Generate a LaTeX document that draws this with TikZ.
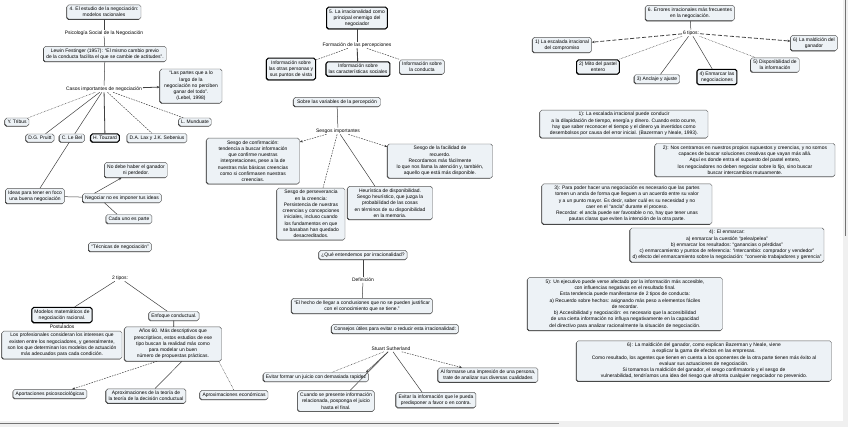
\documentclass[tikz,border=0pt]{standalone}
\usepackage{fontspec}
\setmainfont{Liberation Sans}
\usetikzlibrary{shadows,arrows.meta,calc}
\definecolor{boxfill}{HTML}{EDF2F6}
\newcommand\mapfont{\fontsize{4.95}{6.25}\selectfont}
\tikzset{
 mapbox/.style={draw=black!65, line width=0.45pt, fill=boxfill, rounded corners=1.8pt, align=center, font=\mapfont, inner xsep=2.5pt, inner ysep=2.2pt, drop shadow={shadow xshift=-0.6pt, shadow yshift=-0.6pt, fill=black!85, opacity=1}},
 thickbox/.style={mapbox, draw=black, line width=1pt},
 lbl/.style={fill=white, inner sep=0.8pt, font=\mapfont, align=center},
 conn/.style={draw=black!75, line width=0.5pt},
 dsh/.style={conn, dash pattern=on 1.6pt off 1.1pt},
 dtt/.style={conn, dash pattern=on 0.6pt off 0.9pt},
 ldsh/.style={conn, line width=0.8pt, dash pattern=on 4pt off 2pt},
 arr/.style={-{Stealth[length=3pt,width=2.4pt]}},
}
\begin{document}
\begin{tikzpicture}[x=1pt,y=-1pt]
\useasboundingbox (0,0) rectangle (848,427);
\fill[white] (0,0) rectangle (848,427);
% scroll bars
\fill[black!6] (843,0) rectangle (848,427);
\fill[black!6] (0,421) rectangle (848,427);
\draw[black!55, line width=1pt] (845.5,0) -- (845.5,236);
\draw[black!55, line width=0.8pt] (0,423) -- (559,423);

% ---------- left column ----------
\node[mapbox] (n4) at (104,12) {4. El estudio de la negociación:\\ modelos racionales};
\node[lbl] (l1) at (104,33) {Psicología Social de la Negociación};
\node[mapbox] (lewin) at (105,54) {Lewin Festinger (1957): “El mismo cambio previo\\ de la conducta facilita el que se cambie de actitudes”.};
\node[lbl] (l2) at (104,89) {Casos importantes de negociación};
\node[mapbox, minimum width=62pt] (lebel) at (191,86) {“Las partes que a lo\\ largo de la\\ negociación no perciben\\ ganar del todo”.\\ (Lebel, 1998)};
\node[mapbox] (tribus) at (17,122) {Y. Tribus};
\node[mapbox] (pruitt) at (40,138) {D.G. Pruitt};
\node[mapbox] (lebelb) at (72,138) {C. Le Bel};
\node[thickbox] (touz) at (105,138) {H. Touzard};
\node[mapbox] (lax) at (157,138) {D.A. Lax y J.K. Sebenius};
\node[mapbox] (mund) at (195,122) {L. Munduate};
\node[mapbox] (ideas) at (35,196) {Ideas para tener en foco\\ una buena negociación};
\node[mapbox] (nego) at (122,198) {Negociar no es imponer tus ideas};
\node[mapbox] (nodebe) at (136,170) {No debe haber el ganador\\ ni perdedor.};
\node[mapbox] (cada) at (129,219) {Cada uno es parte};
\node[mapbox] (tecn) at (120,247) {“Técnicas de negociación”};
\node[lbl] (tipos) at (120,278) {2 tipos:};
\node[thickbox] (model) at (62,315) {Modelos matemáticos de\\ negociación racional.};
\node[lbl] (postu) at (62,327) {Postulados};
\node[mapbox, minimum width=120pt] (postb) at (62,345) {Los profesionales consideran los intereses que\\ existen entre los negociadores, y generalmente,\\ son los que determinan los modelos de actuación\\ más adecuados para cada condición.};
\node[mapbox] (enfo) at (174,316) {Enfoque conductual.};
\node[mapbox, minimum width=97pt] (anos) at (173,344) {Años 60. Más descriptivos que\\ prescriptivos, estos estudios de ese\\ tipo buscan la realidad más como\\ para modelar un buen\\ número de propuestas prácticas.};
\node[mapbox] (aport) at (50,394) {Aportaciones psicosociológicas};
\node[mapbox] (aprox) at (146,396) {Aproximaciones de la teoría de\\ la teoría de la decisión conductual};
\node[mapbox] (econ) at (234,395) {Aproximaciones económicas};

% ---------- middle column ----------
\node[thickbox] (n5) at (357,18) {5. La irracionalidad como\\ principal enemigo del\\ negociador};
\node[lbl] (l5) at (357,45) {Formación de las percepciones};
\node[thickbox] (infl) at (291,69) {Información sobre\\ las otras personas y\\ sus puntos de vista};
\node[thickbox] (infm) at (358,69) {Información sobre\\ las características sociales};
\node[mapbox] (infr) at (422,67) {Información sobre\\ la conducta};
\node[mapbox, minimum width=87pt] (sobre) at (337,102) {Sobre las variables de la percepción};
\node[lbl] (sesg) at (338,131) {Sesgos importantes};
\node[mapbox, minimum width=93pt] (conf) at (253,161) {Sesgo de confirmación:\\ tendencia a buscar información\\ que confirme nuestras\\ interpretaciones, pese a la de\\ nuestras más básicas creencias\\ como si confirmasen nuestras\\ creencias.};
\node[mapbox, minimum width=68pt] (pers) at (311,214) {Sesgo de perseverancia\\ en la creencia:\\ Persistencia de nuestras\\ creencias y concepciones\\ iniciales, incluso cuando\\ los fundamentos en que\\ se basaban han quedado\\ desacreditados.};
\node[mapbox, minimum width=85pt] (heur) at (390,203) {Heurística de disponibilidad.\\ Sesgo heurístico, que juzga la\\ probabilidad de las cosas\\ en términos de su disponibilidad\\ en la memoria.};
\node[mapbox, minimum width=105pt] (facil) at (440,161) {Sesgo de la facilidad de\\ recuerdo.\\ Recordamos más fácilmente\\ lo que nos llama la atención y, también,\\ aquello que está más disponible.};
\node[mapbox] (que) at (363,255) {¿Qué entendemos por irracionalidad?};
\node[lbl] (defin) at (363,280) {Definición};
\node[mapbox] (hecho) at (362,306) {“El hecho de llegar a conclusiones que no se pueden justificar\\ con el conocimiento que se tiene.”};
\node[mapbox] (consej) at (395,329) {Consejos útiles para evitar o reducir esta irracionalidad:};
\node[lbl] (stuart) at (391,349) {Stuart Sutherland};
\node[mapbox] (evit1) at (316,377) {Evitar formar un juicio con demasiada rapidez};
\node[mapbox] (cuando) at (336,401) {Cuando se presente información\\ relacionada, posponga el juicio\\ hasta el final.};
\node[mapbox] (evit2) at (436,400) {Evitar la información que le pueda\\ predisponer a favor o en contra.};
\node[mapbox] (alfor) at (488,375) {Al formarse una impresión de una persona,\\ trate de analizar sus diversas cualidades};

% ---------- right column ----------
\node[mapbox] (n6) at (690,13) {6. Errores irracionales más frecuentes\\ en la negociación.};
\node[lbl] (tip6) at (691,33) {6 tipos:};
\node[mapbox] (e1) at (562,45) {1) La escalada irracional\\ del compromiso};
\node[thickbox] (e2) at (598,67) {2) Mito del pastel\\ entero};
\node[mapbox] (e3) at (657,79) {3) Anclaje y ajuste};
\node[thickbox] (e4) at (717,77) {4) Enmarcar las\\ negociaciones};
\node[mapbox] (e5) at (775,65) {5) Disponibilidad de\\ la información};
\node[mapbox] (e6) at (814,43) {6) La maldición del\\ ganador};
\node[mapbox, minimum width=168pt] (p1) at (624,124) {1): La escalada irracional puede conducir\\ a la dilapidación de tiempo, energía y dinero. Cuando esto ocurre,\\ hay que saber reconocer el tiempo y el dinero ya invertidos como\\ desembolsos por causa del error inicial. (Bazerman y Neale, 1993).};
\node[mapbox, minimum width=180pt] (p2) at (745,160) {2): Nos centramos en nuestros propios supuestos y creencias, y no somos\\ capaces de buscar soluciones creativas que vayan más allá.\\ Aquí es donde entra el supuesto del pastel entero,\\ los negociadores no deben negociar sobre lo fijo, sino buscar\\ buscar intercambios mutuamente.};
\node[mapbox, minimum width=170pt] (p3) at (627,204) {3): Para poder hacer una negociación es necesario que las partes\\ tomen un ancla de forma que lleguen a un acuerdo entre su valor\\ y a un punto mayor. Es decir, saber cuál es su necesidad y no\\ caer en el “ancla” durante el proceso.\\ Recordar: el ancla puede ser favorable o no, hay que tener unas\\ pautas claras que eviten la intención de la otra parte.};
\node[mapbox] (p4) at (727,245) {4): El enmarcar:\\ a) enmarcar la cuestión “pelea/pelea”\\ b) enmarcar los resultados: “ganancias o pérdidas”\\ c) enmarcamiento y puntos de referencia: “intercambio: comprador y vendedor”\\ d) efecto del enmarcamiento sobre la negociación: “convenio trabajadores y gerencia”};
\node[mapbox, minimum width=195pt] (p5) at (625,304) {5): Un ejecutivo puede verse afectado por la información más accesible,\\ con influencias negativas en el resultado final.\\ Esta tendencia puede manifestarse de 2 tipos de conducta:\\ a) Recuerdo sobre hechos: asignando más peso a elementos fáciles\\ de recordar.\\ b) Accesibilidad y negociación: es necesario que la accesibilidad\\ de una cierta información no influya negativamente en la capacidad\\ del directivo para analizar racionalmente la situación de negociación.};
\node[mapbox, minimum width=255pt] (p6) at (704,361) {6): La maldición del ganador, como explican Bazerman y Neale, viene\\ a explicar la gama de efectos en las empresas.\\ Como resultado, los agentes que tienen en cuenta a los oponentes de la otra parte tienen más éxito al\\ evaluar sus actuaciones de negociación.\\ Si tomamos la maldición del ganador, el sesgo confirmatorio y el sesgo de\\ vulnerabilidad, tendríamos una idea del riesgo que afronta cualquier negociador no prevenido.};

% ---------- connectors ----------
\draw[conn] (n4) -- (l1);
\draw[conn] (l1) -- (lewin);
\draw[conn] (lewin) -- (l2);
\draw[conn, line width=0.8pt, arr] (l2) -- (lebel);
\draw[dtt] (l2) -- (tribus);
\draw[conn] (l2) -- (pruitt);
\draw[conn] (l2) -- (lebelb);
\draw[conn, line width=0.8pt] (l2) -- (touz);
\draw[dsh] (l2) -- (lax);
\draw[dsh] (l2) -- (mund);
\draw[conn] (lebelb) -- (ideas);
\draw[conn] (ideas) -- (nego);
\draw[conn, arr] ([xshift=12pt]nego.north west) -- ([xshift=17pt]nodebe.south west);
\draw[conn] ([xshift=22pt]nego.south west) -- ([xshift=-12pt]cada.north);
\draw[conn] (tipos) -- (model);
\draw[conn] (tipos) -- (enfo);
\draw[conn] (model) -- (postu);
\draw[conn, line width=0.8pt] (enfo) -- (anos);
\draw[dsh, arr] ([xshift=-16pt]anos.south) -- ([xshift=22pt]aport.north);
\draw[conn] ([xshift=9pt]anos.south) -- ([xshift=9pt]aprox.north);
\draw[dtt] ([xshift=-3pt]anos.south east) -- (econ.north);

\draw[conn, line width=0.9pt] (n5) -- (l5);
\draw[conn, line width=0.9pt] (l5) -- (infm);
\draw[dsh] (l5) -- (infl);
\draw[dsh] (l5) -- (infr);
\draw[conn] (sobre) -- (sesg);
\draw[dsh, arr] (sesg) -- ([yshift=-4pt]conf.north east);
\draw[dsh] (sesg) -- ([xshift=12pt]pers.north);
\draw[conn] (sesg) -- ([xshift=-15pt]heur.north);
\draw[dsh, arr] (sesg) -- ([yshift=-3pt]facil.north west);
\draw[conn] (que) -- (defin);
\draw[conn] (defin) -- (hecho);
\draw[dtt] (stuart) -- ([xshift=16pt]evit1.north);
\draw[conn, arr] (stuart) -- ([xshift=-3pt]evit1.north east);
\draw[conn] (stuart) -- ([xshift=14pt]cuando.north);
\draw[conn] (stuart) -- ([xshift=-14pt]evit2.north);
\draw[dsh, arr] (stuart) -- ([xshift=-26pt]alfor.north);

\draw[conn] (n6) -- (tip6);
\draw[ldsh, arr] (tip6) -- (e1);
\draw[ldsh, arr] (tip6) -- (e6);
\draw[dtt] (tip6) -- (e2);
\draw[conn] (tip6) -- (e3);
\draw[conn] (tip6) -- (e4);
\draw[dtt] (tip6) -- (e5);
\end{tikzpicture}
\end{document}
